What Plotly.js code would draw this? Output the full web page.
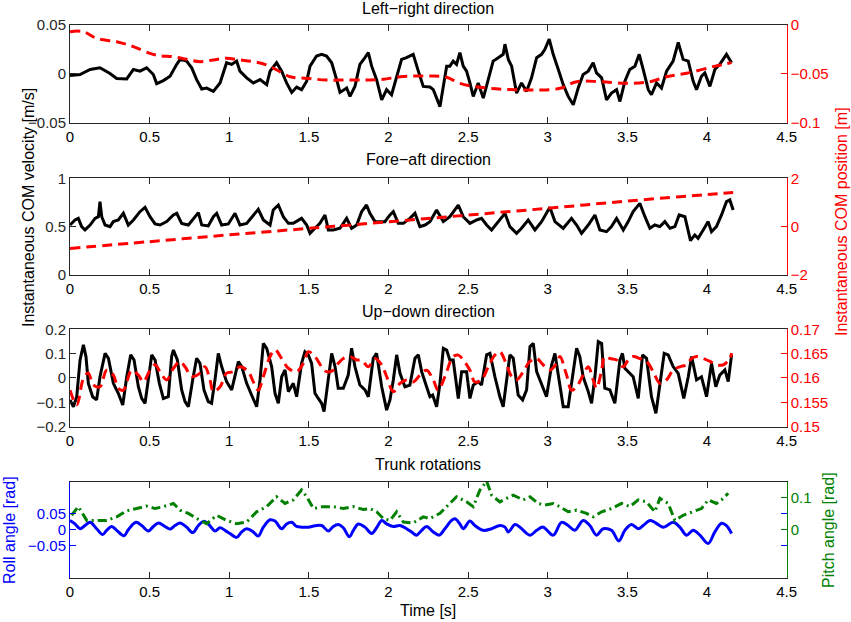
<!DOCTYPE html>
<html>
<head>
<meta charset="utf-8">
<script src="https://cdn.plot.ly/plotly-3.0.1.min.js"></script>
<style>html,body{margin:0;padding:0;background:#fff;}#chart{width:851px;height:622px;}</style>
</head>
<body>
<div id="chart"></div>
<script>
// ---------- tick labels ----------
const xTickVals = [0,0.5,1,1.5,2,2.5,3,3.5,4,4.5];
const xTickText = ["0","0.5","1","1.5","2","2.5","3","3.5","4","4.5"];

// ---------- Panel 1: Left-right ----------
const lrVelT = [0,0.063,0.126,0.188,0.251,0.293,0.356,0.398,0.439,0.481,0.523,0.544,0.586,0.628,0.670,0.691,0.732,0.764,0.795,0.827,0.858,0.900,0.942,0.963,0.983,1.015,1.046,1.067,1.109,1.151,1.193,1.235,1.256,1.297,1.329,1.360,1.392,1.423,1.454,1.486,1.507,1.548,1.580,1.611,1.643,1.674,1.695,1.737,1.758,1.789,1.820,1.852,1.873,1.894,1.925,1.957,1.988,2.019,2.051,2.082,2.113,2.155,2.187,2.218,2.260,
  2.281,2.323,2.344,2.365,2.385,2.406,2.427,2.448,2.469,2.490,2.511,2.532,2.563,2.595,2.626,2.657,2.689,2.720,2.731,2.752,2.773,2.804,2.835,2.867,2.898,2.930,2.961,2.982,3.009,3.034,3.066,3.097,3.128,3.160,3.191,3.222,3.254,3.285,3.306,3.338,3.369,3.400,3.432,3.453,3.484,3.515,3.547,3.574,3.599,3.631,3.651,3.683,3.714,3.746,3.787,3.819,3.850,3.882,3.913,3.934,3.965,3.986,4.018,4.049,4.080,4.122,4.154];
const lrVel = [-0.0017,-0.0007,0.0045,0.0062,0.0003,-0.0048,-0.0052,0.0045,0.0028,0.0062,-0.0007,-0.0100,-0.0069,-0.0024,0.0097,0.0148,0.0131,0.0062,-0.0059,-0.0155,-0.0145,-0.0179,-0.0093,0.0010,0.0114,0.0097,0.0131,0.0028,-0.0041,-0.0093,-0.0059,-0.0110,0.0028,0.0114,0.0028,-0.0093,-0.0190,-0.0135,-0.0162,-0.0076,0.0079,0.0183,0.0200,0.0183,0.0114,-0.0059,-0.0190,-0.0145,-0.0231,-0.0128,0.0097,0.0166,0.0217,0.0079,-0.0059,-0.0266,-0.0162,-0.0214,-0.0024,0.0148,0.0166,0.0200,0.0028,-0.0128,-0.0135,
  -0.0162,-0.0335,-0.0128,0.0079,0.0079,0.0131,0.0097,0.0217,0.0079,0.0028,-0.0093,-0.0231,-0.0093,-0.0248,-0.0059,0.0131,0.0166,0.0200,0.0304,0.0148,0.0079,-0.0197,-0.0093,-0.0179,-0.0041,0.0166,0.0200,0.0252,0.0355,0.0200,0.0045,-0.0110,-0.0231,-0.0317,-0.0145,-0.0007,0.0028,0.0114,0.0010,-0.0041,-0.0266,-0.0197,-0.0162,-0.0283,-0.0076,0.0045,0.0079,0.0200,0.0045,-0.0162,-0.0214,-0.0093,-0.0145,0.0028,0.0131,0.0321,0.0148,0.0131,-0.0076,-0.0162,-0.0024,0.0010,-0.0128,0.0045,0.0097,0.0200,0.0114];
const lrPosT = [0,0.084,0.167,0.293,0.398,0.502,0.565,0.649,0.732,0.816,0.900,0.983,1.067,1.151,1.235,1.318,1.381,1.486,1.611,1.737,1.862,1.967,2.072,2.260,2.365,2.448,2.574,2.720,2.930,3.076,3.181,3.327,3.495,3.641,3.746,3.871,4.039,4.154];
const lrPos = [-0.0068,-0.0068,-0.0137,-0.0171,-0.0222,-0.0290,-0.0314,-0.0324,-0.0351,-0.0375,-0.0358,-0.0341,-0.0358,-0.0375,-0.0409,-0.0477,-0.0529,-0.0546,-0.0563,-0.0563,-0.0563,-0.0556,-0.0529,-0.0522,-0.0535,-0.0597,-0.0638,-0.0658,-0.0665,-0.0648,-0.0580,-0.0580,-0.0597,-0.0580,-0.0529,-0.0494,-0.0426,-0.0385];

// ---------- Panel 2: Fore-aft ----------
const faVelT = [0,0.031,0.052,0.073,0.094,0.126,0.157,0.178,0.188,0.199,0.220,0.251,0.272,0.303,0.335,0.366,0.398,0.439,0.471,0.502,0.534,0.565,0.607,0.649,0.670,0.701,0.743,0.774,0.806,0.827,0.868,0.900,0.921,0.952,0.994,1.036,1.067,1.109,1.151,1.182,1.214,1.256,1.276,1.308,1.339,1.371,1.402,1.454,1.486,1.507,1.538,1.569,1.601,1.622,1.653,1.695,1.737,1.768,1.800,1.831,1.862,1.883,1.915,1.946,1.977,2.009,2.030,2.061,2.093,2.134,2.166,2.197,2.229,2.260,
  2.302,2.344,2.385,2.438,2.469,2.511,2.553,2.584,2.616,2.647,2.689,2.731,2.762,2.804,2.835,2.877,2.919,2.961,3.013,3.045,3.097,3.149,3.181,3.212,3.254,3.296,3.327,3.369,3.400,3.432,3.474,3.505,3.536,3.578,3.610,3.641,3.672,3.704,3.735,3.767,3.798,3.825,3.861,3.896,3.923,3.944,3.976,4.007,4.028,4.059,4.091,4.122,4.143,4.164];
const faVel = [0.517,0.569,0.586,0.500,0.466,0.517,0.586,0.603,0.759,0.603,0.517,0.500,0.552,0.569,0.638,0.517,0.569,0.655,0.700,0.603,0.528,0.517,0.552,0.621,0.638,0.534,0.517,0.586,0.645,0.517,0.507,0.603,0.638,0.517,0.528,0.638,0.517,0.534,0.621,0.679,0.569,0.517,0.672,0.724,0.603,0.534,0.534,0.586,0.517,0.431,0.483,0.534,0.621,0.466,0.466,0.483,0.586,0.483,0.517,0.655,0.724,0.638,0.552,0.552,0.552,0.621,0.655,0.534,0.534,0.586,0.638,0.500,0.517,0.552,
  0.672,0.552,0.603,0.724,0.603,0.534,0.569,0.586,0.517,0.466,0.552,0.638,0.500,0.431,0.483,0.569,0.466,0.552,0.700,0.552,0.483,0.586,0.517,0.431,0.517,0.621,0.466,0.448,0.500,0.586,0.466,0.552,0.655,0.741,0.603,0.483,0.517,0.500,0.552,0.483,0.500,0.621,0.603,0.355,0.414,0.379,0.466,0.552,0.448,0.500,0.621,0.759,0.776,0.672];
const faPosT = [0,0.5,1,1.5,2,2.5,3,3.5,4,4.164];
const faPos = [-0.90,-0.62,-0.34,-0.07,0.20,0.48,0.76,1.06,1.33,1.41];

// ---------- Panel 3: Up-down ----------
const udVelT = [0,0.021,0.042,0.063,0.084,0.100,0.115,0.142,0.167,0.188,0.220,0.241,0.272,0.303,0.331,0.356,0.381,0.402,0.429,0.450,0.471,0.492,0.513,0.534,0.561,0.586,0.617,0.638,0.649,0.674,0.701,0.722,0.743,0.770,0.795,0.816,0.841,0.868,0.889,0.910,0.931,0.952,0.983,1.015,1.036,1.057,1.078,1.109,1.140,1.172,1.193,1.214,1.235,1.266,1.287,1.308,1.329,1.350,1.371,1.402,1.423,1.454,1.475,1.496,1.517,1.538,1.559,1.580,1.595,1.622,1.643,1.664,1.684,1.716,1.747,1.768,1.789,1.820,1.852,1.873,1.904,1.925,1.957,1.988,2.009,2.030,2.051,2.072,2.103,2.134,2.166,2.187,2.208,2.239,2.260,
  2.277,2.302,2.323,2.344,2.365,2.385,2.406,2.438,2.459,2.490,2.511,2.532,2.563,2.584,2.616,2.637,2.668,2.699,2.720,2.741,2.762,2.783,2.814,2.842,2.867,2.888,2.909,2.930,2.961,2.992,3.024,3.045,3.066,3.097,3.128,3.149,3.181,3.201,3.222,3.254,3.275,3.296,3.317,3.338,3.358,3.390,3.421,3.453,3.469,3.484,3.515,3.536,3.568,3.595,3.620,3.651,3.679,3.704,3.731,3.756,3.787,3.819,3.854,3.882,3.903,3.934,3.965,3.997,4.028,4.055,4.080,4.112,4.133,4.154];
const udVel = [-0.090,-0.118,-0.077,0.074,0.136,0.088,-0.022,-0.077,-0.090,0.005,0.101,0.081,-0.022,-0.063,-0.111,0.005,0.095,0.074,-0.036,-0.084,-0.104,0.005,0.095,0.074,-0.022,-0.084,-0.077,0.088,0.115,0.074,-0.049,-0.097,-0.118,-0.008,0.081,0.060,-0.049,-0.097,-0.104,-0.008,0.101,0.047,-0.015,-0.049,0.012,0.067,0.047,-0.022,-0.070,-0.118,-0.008,0.142,0.122,0.047,-0.063,-0.104,0.005,0.033,-0.056,-0.022,-0.077,0.060,0.108,0.095,0.060,-0.063,-0.084,-0.104,-0.138,-0.008,0.101,0.047,-0.042,-0.042,0.012,0.122,0.047,-0.029,-0.049,-0.077,0.081,0.101,-0.036,-0.132,-0.090,-0.008,0.095,0.019,-0.036,-0.029,0.081,0.095,0.026,-0.036,-0.077,
  -0.070,-0.118,-0.022,0.122,0.115,0.074,0.074,-0.084,0.026,0.026,-0.084,-0.029,-0.015,-0.029,0.095,0.101,0.005,-0.077,-0.118,-0.001,0.095,0.081,-0.070,-0.090,-0.049,0.129,0.142,0.026,-0.029,-0.077,0.053,0.101,0.012,-0.118,-0.118,-0.022,0.122,0.088,0.005,-0.056,-0.104,0.005,0.149,0.142,-0.042,-0.049,-0.104,0.074,0.101,0.040,0.019,0.005,-0.084,0.095,0.081,-0.077,-0.145,-0.022,0.101,0.095,0.047,0.019,-0.084,0.005,0.088,-0.008,0.005,-0.077,0.060,-0.036,0.012,0.033,-0.015,0.095];
const udPosT = [0,0.042,0.084,0.115,0.146,0.188,0.230,0.272,0.303,0.335,0.387,0.429,0.460,0.502,0.534,0.565,0.607,0.649,0.691,0.722,0.764,0.816,0.847,0.879,0.900,0.942,0.983,1.025,1.067,1.119,1.151,1.182,1.214,1.256,1.287,1.329,1.371,1.423,1.465,1.496,1.538,1.580,1.611,1.653,1.684,1.716,1.758,1.800,1.831,1.873,1.915,1.957,1.988,2.030,2.072,2.113,2.155,2.197,2.239,
  2.281,2.312,2.354,2.406,2.438,2.469,2.511,2.542,2.584,2.626,2.668,2.699,2.741,2.773,2.804,2.846,2.888,2.930,2.971,3.013,3.055,3.076,3.118,3.149,3.181,3.222,3.254,3.285,3.306,3.338,3.358,3.390,3.432,3.474,3.505,3.536,3.578,3.620,3.662,3.704,3.746,3.787,3.829,3.871,3.903,3.934,3.976,4.018,4.059,4.101,4.143,4.154];
const udPos = [0.1575,0.1545,0.1599,0.1610,0.1586,0.1582,0.1616,0.1606,0.1579,0.1575,0.1616,0.1606,0.1592,0.1616,0.1627,0.1613,0.1596,0.1620,0.1634,0.1623,0.1603,0.1610,0.1623,0.1596,0.1572,0.1582,0.1610,0.1613,0.1623,0.1613,0.1592,0.1575,0.1603,0.1644,0.1658,0.1640,0.1620,0.1613,0.1630,0.1654,0.1644,0.1623,0.1613,0.1616,0.1630,0.1640,0.1644,0.1637,0.1637,0.1623,0.1640,0.1627,0.1603,0.1572,0.1589,0.1596,0.1592,0.1606,0.1616,
  0.1596,0.1575,0.1603,0.1644,0.1647,0.1637,0.1616,0.1592,0.1596,0.1623,0.1647,0.1654,0.1627,0.1603,0.1596,0.1613,0.1634,0.1640,0.1627,0.1616,0.1630,0.1644,0.1606,0.1575,0.1582,0.1606,0.1623,0.1596,0.1579,0.1616,0.1644,0.1640,0.1637,0.1623,0.1637,0.1644,0.1640,0.1634,0.1613,0.1589,0.1596,0.1616,0.1623,0.1627,0.1640,0.1644,0.1640,0.1634,0.1627,0.1627,0.1640,0.1651];

// ---------- Panel 4: Trunk rotations ----------
const rollT = [0,0.031,0.063,0.094,0.126,0.167,0.205,0.230,0.262,0.293,0.339,0.366,0.414,0.450,0.492,0.523,0.555,0.596,0.628,0.659,0.691,0.732,0.770,0.806,0.837,0.868,0.910,0.942,0.973,1.004,1.046,1.078,1.109,1.151,1.182,1.214,1.256,1.287,1.329,1.360,1.392,1.423,1.454,1.496,1.538,1.580,1.622,1.653,1.684,1.716,1.754,1.779,1.810,1.852,1.894,1.925,1.957,1.988,2.030,2.072,2.113,2.145,2.176,2.208,2.239,
  2.281,2.318,2.354,2.396,2.417,2.448,2.469,2.511,2.542,2.595,2.647,2.699,2.731,2.752,2.794,2.825,2.888,2.930,2.971,3.034,3.086,3.128,3.170,3.222,3.264,3.306,3.348,3.400,3.446,3.484,3.526,3.568,3.599,3.641,3.672,3.725,3.787,3.829,3.871,3.913,3.955,4.007,4.049,4.091,4.122,4.154];
const roll = [0.029,0.018,0.003,0.013,0.023,0.003,-0.015,-0.002,0.010,-0.002,-0.019,0,0.023,0.013,-0.004,0.010,0.021,0.010,0.002,0.013,0.021,0.008,-0.009,0.013,0.026,0.018,-0.004,0.006,-0.002,-0.012,-0.024,-0.007,0.003,-0.007,-0.020,0.008,0.031,0.027,0.003,0.018,0.023,0.010,0.008,0.008,0.012,0.013,-0.004,0.010,0.016,0.006,-0.022,-0.002,0.018,0.008,-0.012,0.006,0.029,0.018,0.010,0.013,0.003,-0.007,-0.017,-0.002,0.010,
  -0.007,-0.017,0.003,0.029,0.034,0.018,0.003,0.027,0.013,-0.002,0.003,0.013,0.008,-0.007,0.016,0.008,-0.017,-0.002,0.008,-0.017,0.023,0.013,-0.002,0.029,0.013,-0.017,0.003,-0.002,-0.035,-0.002,0.016,0.003,0.013,0.029,0.023,0.008,0.023,0.008,-0.017,-0.002,-0.017,-0.043,-0.007,0.020,0.013,-0.012];
const pitchT = [0.010,0.052,0.105,0.167,0.230,0.293,0.356,0.418,0.481,0.534,0.586,0.649,0.691,0.743,0.795,0.858,0.921,0.983,1.046,1.109,1.172,1.235,1.297,1.350,1.402,1.454,1.486,1.528,1.590,1.653,1.716,1.779,1.841,1.883,1.925,1.967,2.009,2.051,2.093,2.155,2.218,
  2.260,2.323,2.365,2.427,2.490,2.532,2.574,2.616,2.647,2.699,2.741,2.783,2.846,2.888,2.940,2.982,3.034,3.076,3.128,3.181,3.243,3.285,3.338,3.400,3.463,3.515,3.568,3.620,3.672,3.704,3.756,3.798,3.850,3.913,3.965,4.007,4.059,4.091,4.133];
const pitch = [0.045,0.072,0.029,0.029,0.029,0.040,0.059,0.066,0.074,0.066,0.072,0.082,0.061,0.051,0.035,0.019,0.045,0.029,0.019,0.024,0.056,0.072,0.103,0.082,0.093,0.124,0.103,0.066,0.072,0.072,0.066,0.072,0.063,0.066,0.056,0.035,0.029,0.056,0.024,0.021,0.040,
  0.035,0.051,0.072,0.103,0.087,0.072,0.124,0.151,0.108,0.087,0.098,0.108,0.093,0.103,0.082,0.077,0.082,0.072,0.056,0.061,0.051,0.040,0.056,0.066,0.082,0.072,0.093,0.087,0.056,0.098,0.082,0.029,0.045,0.056,0.066,0.093,0.082,0.093,0.114];

// ---------- y tick labels ----------
const p1LeftVals = [-0.05,0,0.05], p1LeftText = ["\u22120.05","0","0.05"];
const p1RightVals = [-0.1,-0.05,0], p1RightText = ["\u22120.1","\u22120.05","0"];
const p2LeftVals = [0,0.5,1], p2LeftText = ["0","0.5","1"];
const p2RightVals = [-2,0,2], p2RightText = ["\u22122","0","2"];
const p3LeftVals = [-0.2,-0.1,0,0.1,0.2], p3LeftText = ["\u22120.2","\u22120.1","0","0.1","0.2"];
const p3RightVals = [0.15,0.155,0.16,0.165,0.17], p3RightText = ["0.15","0.155","0.16","0.165","0.17"];
const p4LeftVals = [-0.05,0,0.05], p4LeftText = ["\u22120.05","0","0.05"];
const p4RightVals = [0,0.1], p4RightText = ["0","0.1"];

const BLACK = '#000000', RED = '#ff0000', BLUE = '#0000ff', GREEN = '#007f00', AX = '#262626';
const FONT = 'Liberation Sans, Arial, Helvetica, sans-serif';
const XDOM = [0.0823, 0.9244];
const YDOM = [[0.8027,0.9598],[0.5579,0.7133],[0.3140,0.4706],[0.0712,0.2256]];

function xAxis(yname){
  return {domain:XDOM, anchor:yname, range:[0,4.5], tickvals:xTickVals, ticktext:xTickText,
    ticks:'inside', ticklen:6, tickcolor:AX, showline:true, linecolor:AX, linewidth:1, mirror:'ticks',
    showgrid:false, zeroline:false, tickfont:{family:FONT,size:15,color:BLACK}, fixedrange:true};
}
function yLeft(i, xname, range, vals, text, color, mirror){
  return {domain:YDOM[i], anchor:xname, range:range, tickvals:vals, ticktext:text,
    ticks:'inside', ticklen:6, tickcolor:color, showline:true, linecolor:color, linewidth:1,
    mirror:mirror, showgrid:false, zeroline:false, tickfont:{family:FONT,size:15,color:color}};
}
function yRight(over, xname, range, vals, text, color){
  return {overlaying:over, side:'right', anchor:xname, range:range, tickvals:vals, ticktext:text,
    ticks:'inside', ticklen:6, tickcolor:color, showline:true, linecolor:color, linewidth:1,
    showgrid:false, zeroline:false, tickfont:{family:FONT,size:15,color:color}};
}

const redDash = {color:RED, width:3, dash:'10px,6px'};
const blackSolid = {color:BLACK, width:3};

const traces = [
  {x:lrVelT, y:lrVel, xaxis:'x', yaxis:'y', mode:'lines', line:blackSolid},
  {x:lrPosT, y:lrPos, xaxis:'x', yaxis:'y2', mode:'lines', line:Object.assign({shape:'spline'}, redDash)},
  {x:faVelT, y:faVel, xaxis:'x2', yaxis:'y3', mode:'lines', line:blackSolid},
  {x:faPosT, y:faPos, xaxis:'x2', yaxis:'y4', mode:'lines', line:Object.assign({shape:'spline'}, redDash)},
  {x:udVelT, y:udVel, xaxis:'x3', yaxis:'y5', mode:'lines', line:blackSolid},
  {x:udPosT, y:udPos, xaxis:'x3', yaxis:'y6', mode:'lines', line:Object.assign({shape:'spline'}, redDash)},
  {x:rollT, y:roll, xaxis:'x4', yaxis:'y7', mode:'lines', line:{color:BLUE, width:3, shape:'spline'}},
  {x:pitchT, y:pitch, xaxis:'x4', yaxis:'y8', mode:'lines', line:{color:GREEN, width:3, dash:'9px,4px,2px,4px'}}
];

function ann(text, x, y, color, angle){
  return {text:text, x:x, y:y, xref:'paper', yref:'paper', xanchor:'center', yanchor:'middle',
    showarrow:false, textangle:angle||0, font:{family:FONT, size:16, color:color}};
}

const layout = {
  width:851, height:622, margin:{l:0,r:0,t:0,b:0}, showlegend:false,
  paper_bgcolor:'#ffffff', plot_bgcolor:'#ffffff',
  font:{family:FONT, size:15, color:BLACK},
  xaxis: xAxis('y'),
  xaxis2: xAxis('y3'),
  xaxis3: xAxis('y5'),
  xaxis4: xAxis('y7'),
  yaxis: yLeft(0,'x',[-0.05,0.05],p1LeftVals,p1LeftText,AX,false),
  yaxis2: yRight('y','x',[-0.1,0],p1RightVals,p1RightText,RED),
  yaxis3: yLeft(1,'x2',[0,1],p2LeftVals,p2LeftText,AX,false),
  yaxis4: yRight('y3','x2',[-2,2],p2RightVals,p2RightText,RED),
  yaxis5: yLeft(2,'x3',[-0.2,0.2],p3LeftVals,p3LeftText,AX,false),
  yaxis6: yRight('y5','x3',[0.15,0.17],p3RightVals,p3RightText,RED),
  yaxis7: yLeft(3,'x4',[-0.15,0.15],p4LeftVals,p4LeftText,BLUE,'ticks'),
  yaxis8: yRight('y7','x4',[-0.15,0.15],p4RightVals,p4RightText,GREEN),
  annotations:[
    ann('Left\u2212right direction', 0.5035, 0.9867, BLACK),
    ann('Fore\u2212aft direction', 0.5035, 0.7428, BLACK),
    ann('Up\u2212down direction', 0.5035, 0.4984, BLACK),
    ann('Trunk rotations', 0.5035, 0.2540, BLACK),
    ann('Instantaneous COM velocity [m/s]', 0.0341, 0.6656, BLACK, -90),
    ann('Instantaneous COM position [m]', 0.9894, 0.6447, RED, -90),
    ann('Roll angle [rad]', 0.0106, 0.1479, BLUE, -90),
    ann('Pitch angle [rad]', 0.9730, 0.1479, GREEN, -90),
    ann('Time [s]', 0.5035, 0.0177, BLACK)
  ]
};

Plotly.newPlot('chart', traces, layout, {staticPlot:true, displayModeBar:false});
</script>
</body>
</html>
